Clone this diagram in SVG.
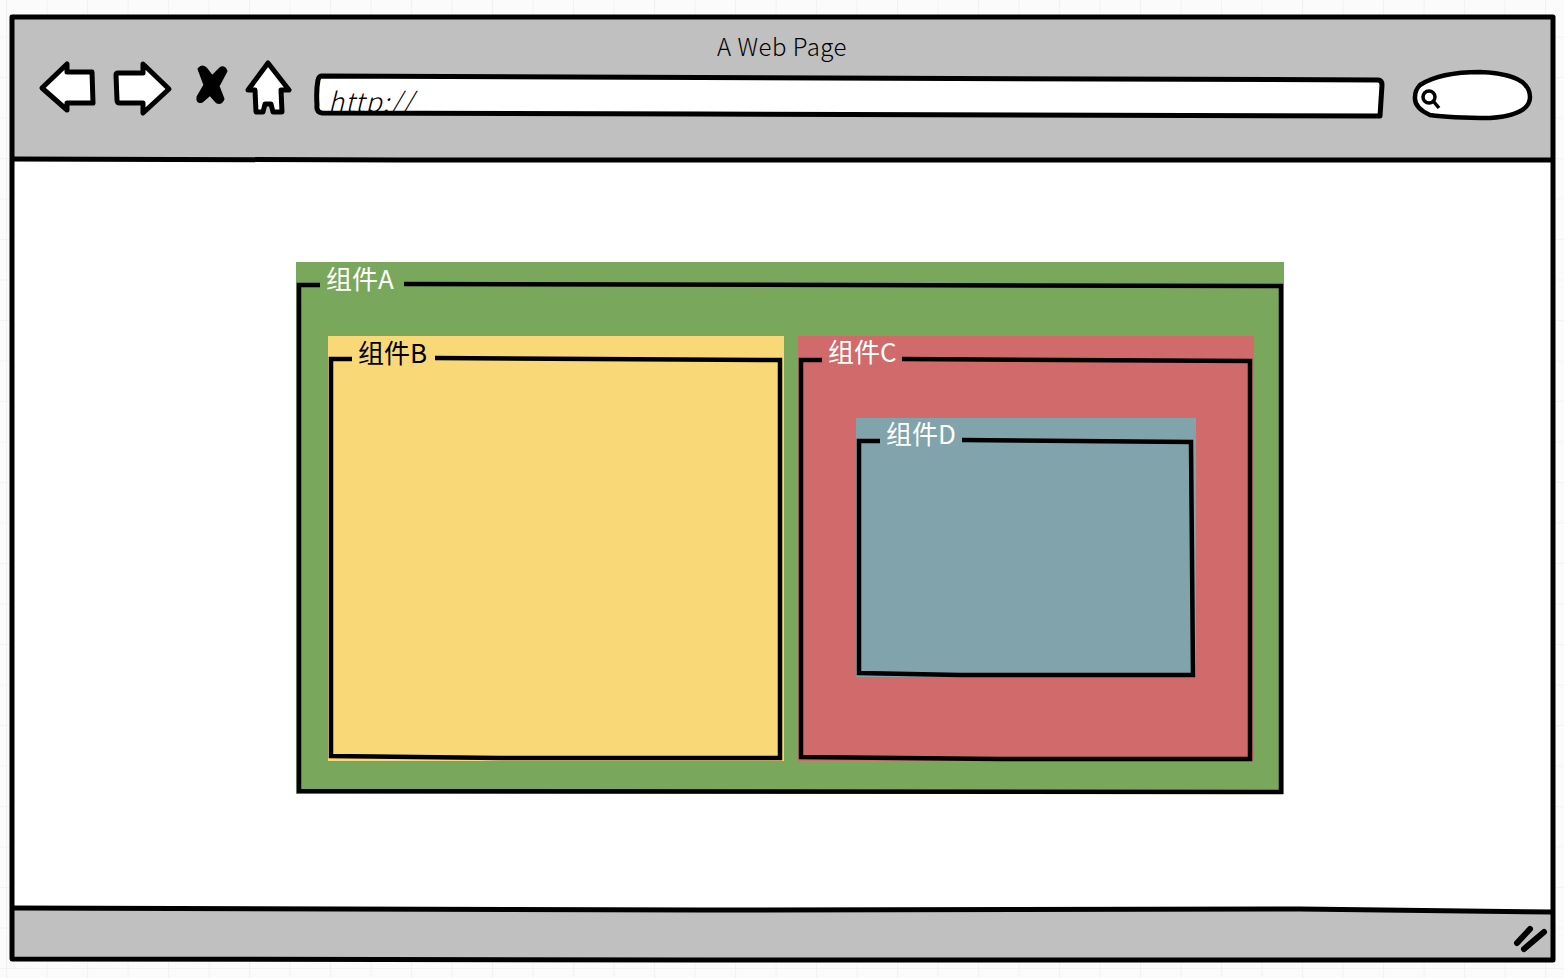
<svg xmlns="http://www.w3.org/2000/svg" width="1564" height="978" viewBox="0 0 1564 978">
<defs>
<pattern id="grid" width="40.5" height="40.5" patternUnits="userSpaceOnUse" x="6" y="-4">
<rect width="40.5" height="40.5" fill="#fbfbfb"/>
<path d="M0.5 0V40.5M0 0.5H40.5" fill="none" stroke="#f2f2f2" stroke-width="1"/>
</pattern>
<clipPath id="addr-clip"><rect x="322" y="80" width="200" height="33"/></clipPath>
</defs>
<style>
.ink{fill:none;stroke:#000;stroke-width:5;stroke-linejoin:round;stroke-linecap:butt}
.frame{fill:none;stroke:#000;stroke-width:4.500;stroke-linejoin:miter;stroke-linecap:butt}
.icon{fill:#fff;stroke:#000;stroke-width:5;stroke-linejoin:round}
text{font-family:"Noto Sans CJK SC","Liberation Sans",sans-serif}
.lbl{font-size:26px}
.w{fill:#fff}
.k{fill:#000}
</style>
<rect id="background" width="1564" height="978" fill="url(#grid)"/>
<g id="browser">
<path d="M12 17H1553V960H12Z" fill="#fff"/>
<path d="M12 17H1553V159H12Z" fill="#c0c0c0"/>
<path d="M12 909L1300 909L1553 912V960H12Z" fill="#c0c0c0"/>
<path class="ink" d="M12 17H1553V960L700 960L12 959Z"/>
<path class="ink" d="M12 159L400 160H1553"/>
<path class="ink" d="M12 908L700 910L1300 909L1553 912"/>
<text x="782" y="56" text-anchor="middle" font-size="24" font-weight="300" letter-spacing="0.500" fill="#000">A Web Page</text>
</g>
<g id="back"><path class="icon" d="M42 88L67 64V72H92L93 103H67V110Z"/></g>
<g id="forward"><path class="icon" d="M116 75Q116 73 118 73H143V64L169 89L143 113V103H120Q117 103 117 100Z"/></g>
<g id="stop"><path fill="#000" stroke="#000" stroke-width="3" stroke-linejoin="round" d="M199 69Q203 65 206 69L212 77L220 69Q224 66 226 71L218 86L223 99Q221 104 217 102L210 94L202 101Q197 103 198 97L205 85Z"/></g>
<g id="home"><path class="icon" d="M268 63L289 90H281L282 112H273L271 104H265L263 112H256L255 90L248 90Z"/></g>
<g id="address">
<path d="M322 76L1378 80Q1382 80 1382 85L1380 116L700 114L322 113Q316 112 317 105Q316 90 318 80Q319 76 322 76Z" fill="#fff"/>
<text x="328" y="112" font-size="27" font-weight="300" font-style="italic" letter-spacing="1" fill="#000" clip-path="url(#addr-clip)">http://</text>
<path class="ink" stroke-linejoin="round" d="M322 76L1378 80Q1382 80 1382 85L1380 116L700 114L322 113Q316 112 317 105Q316 90 318 80Q319 76 322 76Z"/>
</g>
<g id="search">
<path d="M1420 85Q1440 72 1480 72Q1530 74 1530 97Q1530 115 1490 118Q1450 118 1430 115Q1414 108 1415 97Q1415 90 1420 85Z" fill="#fff" stroke="#000" stroke-width="4.500"/>
<circle cx="1429" cy="97" r="6" fill="none" stroke="#000" stroke-width="3.500"/>
<path d="M1434 102L1439 108" stroke="#000" stroke-width="3.500" fill="none"/>
</g>
<g id="resize"><path d="M1517 943L1530 929M1524 949L1544 932" stroke="#000" stroke-width="6" stroke-linecap="round" fill="none"/></g>
<g id="component-a">
<rect x="296" y="262" width="988" height="532" fill="#79a75c"/>
<path class="frame" d="M320 285H299V791L1281 792V286L404 284"/>
<text class="lbl w" x="326" y="289">组件A</text>
</g>
<g id="component-b">
<rect x="328" y="336" width="456" height="425" fill="#f9d877"/>
<path class="frame" d="M352 359H331V756L500 758L780 758V360L435 358"/>
<text class="lbl k" x="358" y="363">组件B</text>
</g>
<g id="component-c">
<rect x="798" y="336" width="456" height="425" fill="#d16b6b"/>
<path class="frame" d="M822 360H801V757L1000 759H1250V361L902 359"/>
<text class="lbl w" x="828" y="362">组件C</text>
</g>
<g id="component-d">
<rect x="856" y="418" width="340" height="259" fill="#80a3ac"/>
<path class="frame" d="M880 441H859V673L960 675H1193L1191 442L962 440"/>
<text class="lbl w" x="886" y="444">组件D</text>
</g>
<g id="connectors"></g>
</svg>
